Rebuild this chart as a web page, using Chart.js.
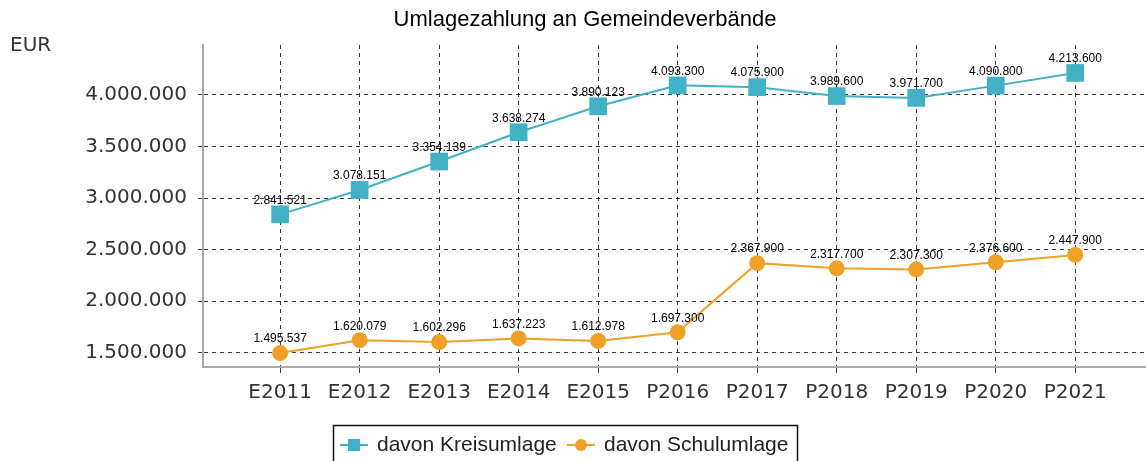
<!DOCTYPE html>
<html>
<head>
<meta charset="utf-8">
<script src="https://cdn.jsdelivr.net/npm/chart.js@4/dist/chart.umd.min.js"></script>
<style>
  html, body { margin: 0; padding: 0; background: #fff; }
  #chart { display: block; }
</style>
</head>
<body>
<canvas id="chart" width="1146" height="461"></canvas>
<script>
// Daten
const years = ['E2011', 'E2012', 'E2013', 'E2014', 'E2015', 'P2016', 'P2017', 'P2018', 'P2019', 'P2020', 'P2021'];
const kreisumlage = [2841521, 3078151, 3354139, 3638274, 3890123, 4093300, 4075900, 3989600, 3971700, 4090800, 4213600];
const schulumlage = [1495537, 1620079, 1602296, 1637223, 1612978, 1697300, 2367900, 2317700, 2307300, 2376600, 2447900];
const yTicks = [1500000, 2000000, 2500000, 3000000, 3500000, 4000000];

const TEAL = '#42b1c6';
const ORANGE = '#efa127';
const GRID = '#3c3c3c';
const AXIS = '#a8a8a8';

function fmt(n) {
    return String(Math.round(n)).replace(/\B(?=(\d{3})+(?!\d))/g, '.');
}

function toPoints(arr) {
    return arr.map((v, i) => ({ x: i, y: v }));
}

// Titel, Einheit, Wertbeschriftungen und Legende
const decorations = {
    id: 'decorations',
    afterDatasetsDraw(chart) {
        const ctx = chart.ctx;
        ctx.save();
        ctx.fillStyle = '#000';
        ctx.font = '12px "Liberation Sans", Arial, sans-serif';
        ctx.textAlign = 'center';
        ctx.textBaseline = 'middle';
        chart.data.datasets.forEach((ds, di) => {
            const meta = chart.getDatasetMeta(di);
            meta.data.forEach((pt, i) => {
                ctx.fillText(fmt(ds.data[i].y), pt.x, pt.y - 14);
            });
        });
        ctx.restore();
    },
    afterDraw(chart) {
        const ctx = chart.ctx;
        ctx.save();
        // Titel
        ctx.fillStyle = '#000';
        ctx.font = '22px "Liberation Sans", Arial, sans-serif';
        ctx.textAlign = 'center';
        ctx.textBaseline = 'middle';
        ctx.fillText('Umlagezahlung an Gemeindeverbände', 585, 20);
        // Einheit
        ctx.fillStyle = '#333';
        ctx.font = '20px "DejaVu Sans", sans-serif';
        ctx.textAlign = 'left';
        ctx.fillText('EUR', 10, 46);

        // Legende
        ctx.strokeStyle = '#111';
        ctx.lineWidth = 1.5;
        ctx.strokeRect(333.5, 425.5, 464, 60);
        const items = [
            { x: 340, ds: chart.data.datasets[0] },
            { x: 567, ds: chart.data.datasets[1] }
        ];
        const ly = 445;
        ctx.font = '21px "Liberation Sans", Arial, sans-serif';
        ctx.textBaseline = 'middle';
        items.forEach(it => {
            const ds = it.ds;
            ctx.strokeStyle = ds.borderColor;
            ctx.lineWidth = 2;
            ctx.beginPath();
            ctx.moveTo(it.x, ly);
            ctx.lineTo(it.x + 28, ly);
            ctx.stroke();
            ctx.fillStyle = ds.backgroundColor;
            if (ds.pointStyle === 'rect') {
                ctx.fillRect(it.x + 8, ly - 6, 12, 12);
            } else {
                ctx.beginPath();
                ctx.arc(it.x + 14, ly, 6, 0, Math.PI * 2);
                ctx.fill();
            }
            ctx.fillStyle = '#222';
            ctx.fillText(ds.label, it.x + 37, ly);
        });
        ctx.restore();
    }
};

new Chart(document.getElementById('chart'), {
    type: 'line',
    data: {
        datasets: [
            {
                label: 'davon Kreisumlage',
                data: toPoints(kreisumlage),
                borderColor: TEAL,
                backgroundColor: TEAL,
                borderWidth: 2,
                pointStyle: 'rect',
                pointRadius: 12.5,
                pointBorderWidth: 0,
                tension: 0
            },
            {
                label: 'davon Schulumlage',
                data: toPoints(schulumlage),
                borderColor: ORANGE,
                backgroundColor: ORANGE,
                borderWidth: 2,
                pointStyle: 'circle',
                pointRadius: 8,
                pointBorderWidth: 0,
                tension: 0
            }
        ]
    },
    options: {
        responsive: false,
        animation: false,
        devicePixelRatio: 1,
        layout: { autoPadding: false, padding: { top: 45, left: 0, right: 0, bottom: 0 } },
        plugins: {
            legend: { display: false },
            title: { display: false },
            tooltip: { enabled: false }
        },
        scales: {
            x: {
                type: 'linear',
                min: -0.97,
                max: 10.89,
                afterFit(scale) {
                    scale.height = 94;
                    scale.paddingLeft = 0;
                    scale.paddingRight = 0;
                },
                afterBuildTicks(scale) {
                    scale.ticks = years.map((_, i) => ({ value: i }));
                },
                ticks: {
                    callback: (v) => years[v],
                    font: { family: '"DejaVu Sans", sans-serif', size: 20 },
                    color: '#333',
                    padding: 8,
                    maxRotation: 0,
                    autoSkip: false
                },
                grid: { color: GRID, lineWidth: 1, tickLength: 6 },
                border: { display: true, color: AXIS, width: 2, dash: [4, 4] }
            },
            y: {
                min: 1360000,
                max: 4485000,
                afterFit(scale) { scale.width = 203; },
                afterBuildTicks(scale) {
                    scale.ticks = yTicks.map(v => ({ value: v }));
                },
                ticks: {
                    callback: (v) => fmt(v),
                    font: { family: '"DejaVu Sans", sans-serif', size: 20 },
                    color: '#333',
                    padding: 11
                },
                grid: { color: GRID, lineWidth: 1, tickLength: 5 },
                border: { display: true, color: AXIS, width: 2, dash: [4, 4] }
            }
        }
    },
    plugins: [decorations]
});
</script>
</body>
</html>
